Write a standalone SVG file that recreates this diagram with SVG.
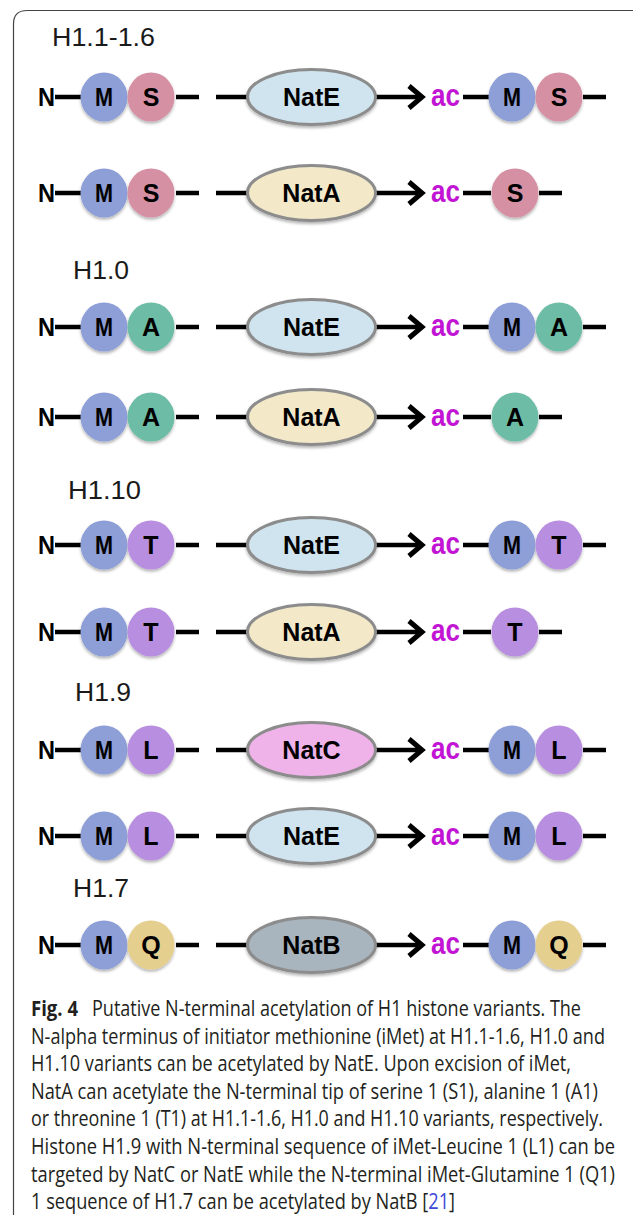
<svg xmlns="http://www.w3.org/2000/svg" width="633" height="1215" viewBox="0 0 633 1215">
  <defs>
    <filter id="sh" x="-20%" y="-20%" width="140%" height="150%">
      <feDropShadow dx="0" dy="2" stdDeviation="1.6" flood-color="#000" flood-opacity="0.3"/>
    </filter>
  </defs>
  <style>
    .lbl { font-family: "Liberation Sans", Arial, sans-serif; font-weight: bold; font-size: 25px; fill: #000; text-anchor: middle; }
    .nterm { font-family: "Liberation Sans", Arial, sans-serif; font-weight: bold; font-size: 25px; fill: #000; }
    .ac { font-family: "Liberation Sans", Arial, sans-serif; font-weight: bold; font-size: 32px; fill: #c214d4; }
    .head { font-family: "Liberation Sans", Arial, sans-serif; font-size: 25px; fill: #1a1a1a; }
    .cap { font-family: "Open Sans", "Liberation Sans", sans-serif; font-size: 21px; fill: #231f20; }
    .capb { font-family: "Open Sans", "Liberation Sans", sans-serif; font-size: 21px; font-weight: bold; fill: #231f20; }
    .ref { fill: #3b48d8; }
    .ln { stroke: #000; stroke-width: 4.5; fill: none; }
    .hd { stroke: #000; stroke-width: 5; fill: none; stroke-linejoin: miter; }
    .res { filter: url(#sh); }
    .enz { stroke: #8c8c8c; stroke-width: 3; filter: url(#sh); }
    .m { fill: #8e9ed6; }
    .s { fill: #d590a4; }
    .a { fill: #6dbca6; }
    .t { fill: #b88ee0; }
    .q { fill: #e5cf8f; }
    .natE { fill: #cfe4ef; }
    .natA { fill: #f3e9c9; }
    .natC { fill: #efb3ea; }
    .natB { fill: #a9b5be; }
  </style>

  <!-- frame -->
  <path d="M13.5 1215 V24 Q13.5 10.5 27 10.5 H640" fill="none" stroke="#444" stroke-width="1.2"/>

  <!-- variant headings -->
  <g id="headings">
    <text class="head" x="52" y="46" textLength="103" lengthAdjust="spacingAndGlyphs">H1.1-1.6</text>
    <text class="head" x="73" y="279" textLength="56" lengthAdjust="spacingAndGlyphs">H1.0</text>
    <text class="head" x="68" y="499" textLength="73" lengthAdjust="spacingAndGlyphs">H1.10</text>
    <text class="head" x="75" y="701" textLength="56" lengthAdjust="spacingAndGlyphs">H1.9</text>
    <text class="head" x="73" y="897" textLength="56" lengthAdjust="spacingAndGlyphs">H1.7</text>
  </g>

  <!-- connectors: backbone dashes and reaction arrows -->
  <g id="connectors">
    <!-- row 1 -->
    <path class="ln" d="M55 97H82 M176 97H199 M216 97H247 M376 97H419 M463 97H489 M583 97H606"/>
    <polyline class="hd" points="409,86 422,97 409,108"/>
    <!-- row 2 -->
    <path class="ln" d="M55 193H82 M176 193H199 M216 193H247 M376 193H419 M463 193H491 M539 193H562"/>
    <polyline class="hd" points="409,182 422,193 409,204"/>
    <!-- row 3 -->
    <path class="ln" d="M55 327H82 M176 327H199 M216 327H247 M376 327H419 M463 327H489 M583 327H606"/>
    <polyline class="hd" points="409,316 422,327 409,338"/>
    <!-- row 4 -->
    <path class="ln" d="M55 417H82 M176 417H199 M216 417H247 M376 417H419 M463 417H491 M539 417H562"/>
    <polyline class="hd" points="409,406 422,417 409,428"/>
    <!-- row 5 -->
    <path class="ln" d="M55 545H82 M176 545H199 M216 545H247 M376 545H419 M463 545H489 M583 545H606"/>
    <polyline class="hd" points="409,534 422,545 409,556"/>
    <!-- row 6 -->
    <path class="ln" d="M55 632H82 M176 632H199 M216 632H247 M376 632H419 M463 632H491 M539 632H562"/>
    <polyline class="hd" points="409,621 422,632 409,643"/>
    <!-- row 7 -->
    <path class="ln" d="M55 750H82 M176 750H199 M216 750H247 M376 750H419 M463 750H489 M583 750H606"/>
    <polyline class="hd" points="409,739 422,750 409,761"/>
    <!-- row 8 -->
    <path class="ln" d="M55 836H82 M176 836H199 M216 836H247 M376 836H419 M463 836H489 M583 836H606"/>
    <polyline class="hd" points="409,825 422,836 409,847"/>
    <!-- row 9 -->
    <path class="ln" d="M55 945H82 M176 945H199 M216 945H247 M376 945H419 M463 945H489 M583 945H606"/>
    <polyline class="hd" points="409,934 422,945 409,956"/>
  </g>

  <!-- row 1: H1.1-1.6 / NatE -->
  <g id="r1-substrate">
    <text class="nterm" x="38" y="106" textLength="17" lengthAdjust="spacingAndGlyphs">N</text>
    <g class="res"><ellipse class="m" cx="104" cy="97" rx="23.5" ry="24.5"/><ellipse class="s" cx="151" cy="97" rx="23.5" ry="24.5"/></g>
    <text class="lbl" x="104" y="106" textLength="18" lengthAdjust="spacingAndGlyphs">M</text>
    <text class="lbl" x="151" y="106">S</text>
  </g>
  <g id="r1-enzyme"><ellipse class="enz natE" cx="311.5" cy="97" rx="64" ry="27.5"/><text class="lbl" x="311.5" y="106">NatE</text></g>
  <g id="r1-product">
    <text class="ac" x="431" y="106" textLength="29" lengthAdjust="spacingAndGlyphs">ac</text>
    <g class="res"><ellipse class="m" cx="512" cy="97" rx="23.5" ry="24.5"/><ellipse class="s" cx="559" cy="97" rx="23.5" ry="24.5"/></g>
    <text class="lbl" x="512" y="106" textLength="18" lengthAdjust="spacingAndGlyphs">M</text>
    <text class="lbl" x="559" y="106">S</text>
  </g>

  <!-- row 2: H1.1-1.6 / NatA -->
  <g id="r2-substrate">
    <text class="nterm" x="38" y="202" textLength="17" lengthAdjust="spacingAndGlyphs">N</text>
    <g class="res"><ellipse class="m" cx="104" cy="193" rx="23.5" ry="24.5"/><ellipse class="s" cx="151" cy="193" rx="23.5" ry="24.5"/></g>
    <text class="lbl" x="104" y="202" textLength="18" lengthAdjust="spacingAndGlyphs">M</text>
    <text class="lbl" x="151" y="202">S</text>
  </g>
  <g id="r2-enzyme"><ellipse class="enz natA" cx="311.5" cy="193" rx="64" ry="27.5"/><text class="lbl" x="311.5" y="202">NatA</text></g>
  <g id="r2-product">
    <text class="ac" x="431" y="202" textLength="29" lengthAdjust="spacingAndGlyphs">ac</text>
    <g class="res"><ellipse class="s" cx="515" cy="193" rx="23.5" ry="24.5"/></g>
    <text class="lbl" x="515" y="202">S</text>
  </g>

  <!-- row 3: H1.0 / NatE -->
  <g id="r3-substrate">
    <text class="nterm" x="38" y="336" textLength="17" lengthAdjust="spacingAndGlyphs">N</text>
    <g class="res"><ellipse class="m" cx="104" cy="327" rx="23.5" ry="24.5"/><ellipse class="a" cx="151" cy="327" rx="23.5" ry="24.5"/></g>
    <text class="lbl" x="104" y="336" textLength="18" lengthAdjust="spacingAndGlyphs">M</text>
    <text class="lbl" x="151" y="336">A</text>
  </g>
  <g id="r3-enzyme"><ellipse class="enz natE" cx="311.5" cy="327" rx="64" ry="27.5"/><text class="lbl" x="311.5" y="336">NatE</text></g>
  <g id="r3-product">
    <text class="ac" x="431" y="336" textLength="29" lengthAdjust="spacingAndGlyphs">ac</text>
    <g class="res"><ellipse class="m" cx="512" cy="327" rx="23.5" ry="24.5"/><ellipse class="a" cx="559" cy="327" rx="23.5" ry="24.5"/></g>
    <text class="lbl" x="512" y="336" textLength="18" lengthAdjust="spacingAndGlyphs">M</text>
    <text class="lbl" x="559" y="336">A</text>
  </g>

  <!-- row 4: H1.0 / NatA -->
  <g id="r4-substrate">
    <text class="nterm" x="38" y="426" textLength="17" lengthAdjust="spacingAndGlyphs">N</text>
    <g class="res"><ellipse class="m" cx="104" cy="417" rx="23.5" ry="24.5"/><ellipse class="a" cx="151" cy="417" rx="23.5" ry="24.5"/></g>
    <text class="lbl" x="104" y="426" textLength="18" lengthAdjust="spacingAndGlyphs">M</text>
    <text class="lbl" x="151" y="426">A</text>
  </g>
  <g id="r4-enzyme"><ellipse class="enz natA" cx="311.5" cy="417" rx="64" ry="27.5"/><text class="lbl" x="311.5" y="426">NatA</text></g>
  <g id="r4-product">
    <text class="ac" x="431" y="426" textLength="29" lengthAdjust="spacingAndGlyphs">ac</text>
    <g class="res"><ellipse class="a" cx="515" cy="417" rx="23.5" ry="24.5"/></g>
    <text class="lbl" x="515" y="426">A</text>
  </g>

  <!-- row 5: H1.10 / NatE -->
  <g id="r5-substrate">
    <text class="nterm" x="38" y="554" textLength="17" lengthAdjust="spacingAndGlyphs">N</text>
    <g class="res"><ellipse class="m" cx="104" cy="545" rx="23.5" ry="24.5"/><ellipse class="t" cx="151" cy="545" rx="23.5" ry="24.5"/></g>
    <text class="lbl" x="104" y="554" textLength="18" lengthAdjust="spacingAndGlyphs">M</text>
    <text class="lbl" x="151" y="554">T</text>
  </g>
  <g id="r5-enzyme"><ellipse class="enz natE" cx="311.5" cy="545" rx="64" ry="27.5"/><text class="lbl" x="311.5" y="554">NatE</text></g>
  <g id="r5-product">
    <text class="ac" x="431" y="554" textLength="29" lengthAdjust="spacingAndGlyphs">ac</text>
    <g class="res"><ellipse class="m" cx="512" cy="545" rx="23.5" ry="24.5"/><ellipse class="t" cx="559" cy="545" rx="23.5" ry="24.5"/></g>
    <text class="lbl" x="512" y="554" textLength="18" lengthAdjust="spacingAndGlyphs">M</text>
    <text class="lbl" x="559" y="554">T</text>
  </g>

  <!-- row 6: H1.10 / NatA -->
  <g id="r6-substrate">
    <text class="nterm" x="38" y="641" textLength="17" lengthAdjust="spacingAndGlyphs">N</text>
    <g class="res"><ellipse class="m" cx="104" cy="632" rx="23.5" ry="24.5"/><ellipse class="t" cx="151" cy="632" rx="23.5" ry="24.5"/></g>
    <text class="lbl" x="104" y="641" textLength="18" lengthAdjust="spacingAndGlyphs">M</text>
    <text class="lbl" x="151" y="641">T</text>
  </g>
  <g id="r6-enzyme"><ellipse class="enz natA" cx="311.5" cy="632" rx="64" ry="27.5"/><text class="lbl" x="311.5" y="641">NatA</text></g>
  <g id="r6-product">
    <text class="ac" x="431" y="641" textLength="29" lengthAdjust="spacingAndGlyphs">ac</text>
    <g class="res"><ellipse class="t" cx="515" cy="632" rx="23.5" ry="24.5"/></g>
    <text class="lbl" x="515" y="641">T</text>
  </g>

  <!-- row 7: H1.9 / NatC -->
  <g id="r7-substrate">
    <text class="nterm" x="38" y="759" textLength="17" lengthAdjust="spacingAndGlyphs">N</text>
    <g class="res"><ellipse class="m" cx="104" cy="750" rx="23.5" ry="24.5"/><ellipse class="t" cx="151" cy="750" rx="23.5" ry="24.5"/></g>
    <text class="lbl" x="104" y="759" textLength="18" lengthAdjust="spacingAndGlyphs">M</text>
    <text class="lbl" x="151" y="759">L</text>
  </g>
  <g id="r7-enzyme"><ellipse class="enz natC" cx="311.5" cy="750" rx="64" ry="27.5"/><text class="lbl" x="311.5" y="759">NatC</text></g>
  <g id="r7-product">
    <text class="ac" x="431" y="759" textLength="29" lengthAdjust="spacingAndGlyphs">ac</text>
    <g class="res"><ellipse class="m" cx="512" cy="750" rx="23.5" ry="24.5"/><ellipse class="t" cx="559" cy="750" rx="23.5" ry="24.5"/></g>
    <text class="lbl" x="512" y="759" textLength="18" lengthAdjust="spacingAndGlyphs">M</text>
    <text class="lbl" x="559" y="759">L</text>
  </g>

  <!-- row 8: H1.9 / NatE -->
  <g id="r8-substrate">
    <text class="nterm" x="38" y="845" textLength="17" lengthAdjust="spacingAndGlyphs">N</text>
    <g class="res"><ellipse class="m" cx="104" cy="836" rx="23.5" ry="24.5"/><ellipse class="t" cx="151" cy="836" rx="23.5" ry="24.5"/></g>
    <text class="lbl" x="104" y="845" textLength="18" lengthAdjust="spacingAndGlyphs">M</text>
    <text class="lbl" x="151" y="845">L</text>
  </g>
  <g id="r8-enzyme"><ellipse class="enz natE" cx="311.5" cy="836" rx="64" ry="27.5"/><text class="lbl" x="311.5" y="845">NatE</text></g>
  <g id="r8-product">
    <text class="ac" x="431" y="845" textLength="29" lengthAdjust="spacingAndGlyphs">ac</text>
    <g class="res"><ellipse class="m" cx="512" cy="836" rx="23.5" ry="24.5"/><ellipse class="t" cx="559" cy="836" rx="23.5" ry="24.5"/></g>
    <text class="lbl" x="512" y="845" textLength="18" lengthAdjust="spacingAndGlyphs">M</text>
    <text class="lbl" x="559" y="845">L</text>
  </g>

  <!-- row 9: H1.7 / NatB -->
  <g id="r9-substrate">
    <text class="nterm" x="38" y="954" textLength="17" lengthAdjust="spacingAndGlyphs">N</text>
    <g class="res"><ellipse class="m" cx="104" cy="945" rx="23.5" ry="24.5"/><ellipse class="q" cx="151" cy="945" rx="23.5" ry="24.5"/></g>
    <text class="lbl" x="104" y="954" textLength="18" lengthAdjust="spacingAndGlyphs">M</text>
    <text class="lbl" x="151" y="954">Q</text>
  </g>
  <g id="r9-enzyme"><ellipse class="enz natB" cx="311.5" cy="945" rx="64" ry="27.5"/><text class="lbl" x="311.5" y="954">NatB</text></g>
  <g id="r9-product">
    <text class="ac" x="431" y="954" textLength="29" lengthAdjust="spacingAndGlyphs">ac</text>
    <g class="res"><ellipse class="m" cx="512" cy="945" rx="23.5" ry="24.5"/><ellipse class="q" cx="559" cy="945" rx="23.5" ry="24.5"/></g>
    <text class="lbl" x="512" y="954" textLength="18" lengthAdjust="spacingAndGlyphs">M</text>
    <text class="lbl" x="559" y="954">Q</text>
  </g>

  <!-- figure caption -->
  <g id="caption">
    <text class="capb" x="31" y="1016" textLength="47" lengthAdjust="spacingAndGlyphs">Fig. 4</text>
    <text class="cap" x="92" y="1016" textLength="489" lengthAdjust="spacingAndGlyphs">Putative N-terminal acetylation of H1 histone variants. The</text>
    <text class="cap" x="31" y="1043.6" textLength="574" lengthAdjust="spacingAndGlyphs">N-alpha terminus of initiator methionine (iMet) at H1.1-1.6, H1.0 and</text>
    <text class="cap" x="31" y="1071.2" textLength="540" lengthAdjust="spacingAndGlyphs">H1.10 variants can be acetylated by NatE. Upon excision of iMet,</text>
    <text class="cap" x="31" y="1098.8" textLength="567" lengthAdjust="spacingAndGlyphs">NatA can acetylate the N-terminal tip of serine 1 (S1), alanine 1 (A1)</text>
    <text class="cap" x="31" y="1126.4" textLength="572" lengthAdjust="spacingAndGlyphs">or threonine 1 (T1) at H1.1-1.6, H1.0 and H1.10 variants, respectively.</text>
    <text class="cap" x="31" y="1154" textLength="584" lengthAdjust="spacingAndGlyphs">Histone H1.9 with N-terminal sequence of iMet-Leucine 1 (L1) can be</text>
    <text class="cap" x="31" y="1181.6" textLength="584" lengthAdjust="spacingAndGlyphs">targeted by NatC or NatE while the N-terminal iMet-Glutamine 1 (Q1)</text>
    <text class="cap" x="31" y="1209.2" textLength="424" lengthAdjust="spacingAndGlyphs">1 sequence of H1.7 can be acetylated by NatB [<tspan class="ref">21</tspan>]</text>
  </g>
</svg>
